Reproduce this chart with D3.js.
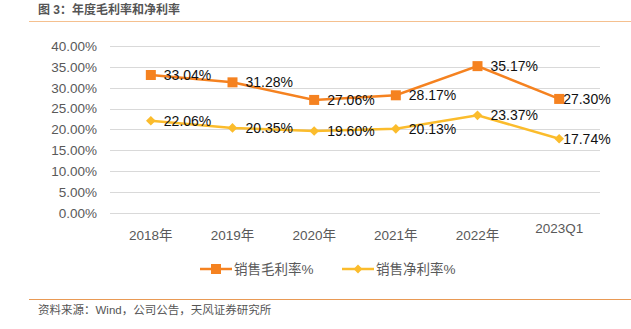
<!DOCTYPE html>
<html><head><meta charset="utf-8">
<script src="https://cdn.jsdelivr.net/npm/d3@7"></script>
<style>body{margin:0;background:#fff;} svg{display:block;}</style>
</head><body>
<svg id="c" width="631" height="329"></svg>
<script>
const categories = ["2018年","2019年","2020年","2021年","2022年","2023Q1"];
const grossMargin = [33.04, 31.28, 27.06, 28.17, 35.17, 27.30];
const netMargin = [22.06, 20.35, 19.60, 20.13, 23.37, 17.74];
const yTicks = [0,5,10,15,20,25,30,35,40];
const seriesNames = ["销售毛利率%","销售净利率%"];
const colors = ["#F58220","#FBBC2C"];
const title = "图 3：年度毛利率和净利率";
const source = "资料来源：Wind，公司公告，天风证券研究所";

const font = "'Liberation Sans', Arial, 'Noto Sans CJK SC', sans-serif";
const svg = d3.select("#c");

svg.append("text").attr("x",38).attr("y",14).text(title)
  .attr("font-family",font).attr("font-size",12).attr("font-weight","bold").attr("fill","#555");
svg.append("line").attr("x1",29).attr("x2",631).attr("y1",21.5).attr("y2",21.5)
  .attr("stroke","#F5C08F").attr("stroke-width",1);
svg.append("line").attr("x1",29).attr("x2",631).attr("y1",299.5).attr("y2",299.5)
  .attr("stroke","#E99A55").attr("stroke-width",1);
svg.append("text").attr("x",38).attr("y",314).text(source)
  .attr("font-family",font).attr("font-size",11.5).attr("fill","#555");

const x = d3.scaleBand().domain(categories).range([110,600]);
const y = d3.scaleLinear().domain([0,40]).range([212.7,46]);

const grid = svg.append("g");
grid.selectAll("line").data(yTicks).join("line")
  .attr("x1",110).attr("x2",600)
  .attr("y1",d=>Math.round(y(d))+0.5).attr("y2",d=>Math.round(y(d))+0.5)
  .attr("stroke","#D9D9D9").attr("stroke-width",1);
grid.selectAll("text").data(yTicks).join("text")
  .attr("x",97).attr("y",d=>y(d)).attr("dy","0.36em").attr("text-anchor","end")
  .attr("font-family",font).attr("font-size",13.5).attr("fill","#595959")
  .text(d=>d.toFixed(2)+"%");

svg.append("g").selectAll("text").data(categories).join("text")
  .attr("x",d=>x(d)+x.bandwidth()/2)
  .attr("y",d=>d.indexOf("年")>=0?240:233)
  .attr("text-anchor","middle")
  .attr("font-family",font).attr("font-size",13.5).attr("fill","#595959")
  .text(d=>d);

const cx = d=>x(d)+x.bandwidth()/2;
const series = [grossMargin, netMargin];
const line = d3.line().x((d,i)=>cx(categories[i])).y(d=>y(d));
series.forEach((vals,si)=>{
  svg.append("path").datum(vals).attr("d",line).attr("fill","none")
    .attr("stroke",colors[si]).attr("stroke-width",2.5);
  const g = svg.append("g");
  if(si===0){
    g.selectAll("rect").data(vals).join("rect")
      .attr("x",(d,i)=>cx(categories[i])-5).attr("y",d=>y(d)-5)
      .attr("width",10).attr("height",10).attr("fill",colors[si]);
  } else {
    g.selectAll("path").data(vals).join("path")
      .attr("d",d3.symbol(d3.symbolDiamond2,60))
      .attr("transform",(d,i)=>`translate(${cx(categories[i])},${y(d)})`)
      .attr("fill",colors[si]);
  }
  svg.append("g").selectAll("text").data(vals).join("text")
    .attr("x",(d,i)=>cx(categories[i])+(i===5?4:13))
    .attr("y",d=>y(d)).attr("dy","0.36em")
    .attr("font-family",font).attr("font-size",14).attr("fill","#111")
    .text(d=>d.toFixed(2)+"%");
});

// legend
const legX = [200,342];
seriesNames.forEach((n,si)=>{
  const lg = svg.append("g");
  lg.append("line").attr("x1",legX[si]).attr("x2",legX[si]+32).attr("y1",269).attr("y2",269)
    .attr("stroke",colors[si]).attr("stroke-width",2.5);
  if(si===0){
    lg.append("rect").attr("x",legX[si]+11).attr("y",264).attr("width",10).attr("height",10).attr("fill",colors[si]);
  } else {
    lg.append("path").attr("d",d3.symbol(d3.symbolDiamond2,50)).attr("transform",`translate(${legX[si]+16},269)`).attr("fill",colors[si]);
  }
  lg.append("text").attr("x",legX[si]+34).attr("y",269).attr("dy","0.36em")
    .attr("font-family",font).attr("font-size",13.5).attr("fill","#595959").text(n);
});
</script>
</body></html>
